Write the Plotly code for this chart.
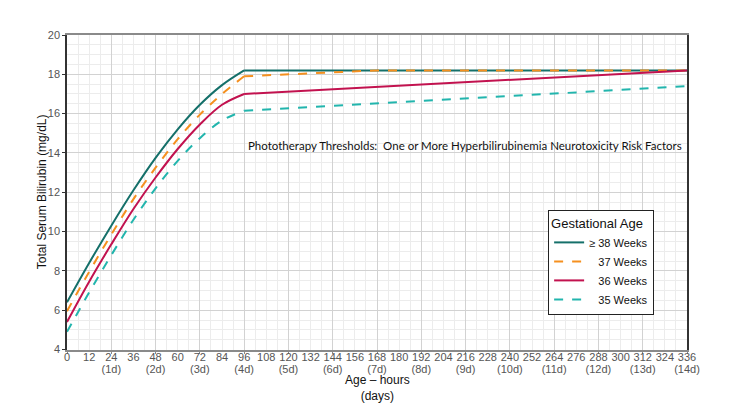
import plotly.graph_objects as go

# ---- data ----
hours = [0, 12, 24, 36, 48, 60, 72, 84, 96, 120, 144, 168, 216, 276, 336]

ga38 = [6.4, 8.4, 10.3, 12.1, 13.75, 15.2, 16.45, 17.45, 18.2, 18.2, 18.2, 18.2, 18.2, 18.2, 18.2]
ga37 = [5.95, 7.95, 9.85, 11.65, 13.25, 14.7, 15.95, 17.0, 17.9, 18.0, 18.12, 18.2, 18.2, 18.2, 18.2]
ga36 = [5.4, 7.45, 9.35, 11.15, 12.75, 14.2, 15.45, 16.45, 17.0, 17.12, 17.24, 17.36, 17.6, 17.9, 18.2]
ga35 = [4.9, 6.9, 8.8, 10.6, 12.2, 13.6, 14.75, 15.65, 16.15, 16.27, 16.4, 16.52, 16.77, 17.08, 17.4]

series_names = ["\u2265 38 Weeks", "\u00a0\u00a0\u00a037 Weeks", "\u00a0\u00a0\u00a036 Weeks", "\u00a0\u00a0\u00a035 Weeks"]
series_vals = [ga38, ga37, ga36, ga35]
series_colors = ["#15706a", "#f5901f", "#c2124f", "#22b5ad"]
series_dash = ["solid", "dash", "solid", "dash"]
rise_end = 96  # hour at which the rising phase ends

day_ticks = list(range(0, 337, 24))
day_labels = [""] + [f"({h // 24}d)" for h in day_ticks[1:]]
hour_ticks = list(range(0, 337, 12))
hour_labels = [str(h) for h in hour_ticks]
y_ticks = list(range(4, 21, 2))

title_text = "Phototherapy Thresholds:  One or More Hyperbilirubinemia Neurotoxicity Risk Factors"
x_title = "Age \u2013 hours<br>(days)"
y_title = "Total Serum Bilirubin (mg/dL)"

fig = go.Figure()
split = hours.index(rise_end)
for name, vals, col, dash in zip(series_names, series_vals, series_colors, series_dash):
    line = dict(color=col, width=2, dash=dash)
    fig.add_trace(go.Scatter(x=hours[:split + 1], y=vals[:split + 1], mode="lines",
                             name=name, legendgroup=name,
                             line=dict(line, shape="spline", smoothing=1.0)))
    fig.add_trace(go.Scatter(x=hours[split:], y=vals[split:], mode="lines",
                             name=name, legendgroup=name, showlegend=False,
                             line=line))

# invisible traces to anchor the label-only axes
for ax in ["x2", "x3"]:
    fig.add_trace(go.Scatter(x=[0, 336], y=[4, 4], xaxis=ax, mode="lines",
                             line=dict(width=0), showlegend=False, hoverinfo="skip"))

tickfont = dict(family="Liberation Sans, Arial, sans-serif", size=11, color="#555555")

# layout geometry (pixels -> paper fractions)
fig_h, m_top, m_bot = 403, 35, 20
plot_bottom_px = 349.5
paper_h = fig_h - m_top - m_bot
dom0 = (fig_h - m_bot - plot_bottom_px) / paper_h
pos_hours = (fig_h - m_bot - 349) / paper_h
pos_days = (fig_h - m_bot - 360.5) / paper_h

fig.update_layout(
    width=730, height=fig_h,
    margin=dict(l=67, r=43, t=m_top, b=m_bot),
    paper_bgcolor="white", plot_bgcolor="white",
    font=dict(family="Liberation Sans, Arial, sans-serif", size=11, color="#222"),
    xaxis=dict(
        range=[0, 336], tickmode="array", tickvals=day_ticks, showticklabels=False,
        showgrid=True, gridcolor="#d2d2d2", gridwidth=1,
        minor=dict(dtick=6, showgrid=True, gridcolor="#ececec", gridwidth=1, ticks=""),
        ticks="outside", ticklen=3, tickcolor="#888",
        showline=True, linecolor="#8a8a8a", linewidth=1.5, mirror=True,
        zeroline=False, automargin=False,
    ),
    xaxis2=dict(
        range=[0, 336], overlaying="x", anchor="free", position=pos_hours,
        tickmode="array", tickvals=hour_ticks, ticktext=hour_labels,
        showgrid=False, ticks="", tickfont=tickfont,
        showline=False, zeroline=False, automargin=False,
    ),
    xaxis3=dict(
        range=[0, 336], overlaying="x", anchor="free", position=pos_days,
        tickmode="array", tickvals=day_ticks, ticktext=day_labels,
        showgrid=False, ticks="", tickfont=tickfont,
        showline=False, zeroline=False, automargin=False,
    ),
    yaxis=dict(
        domain=[dom0, 1],
        range=[4, 20], tickmode="array", tickvals=y_ticks,
        showgrid=True, gridcolor="#d2d2d2", gridwidth=1,
        minor=dict(dtick=0.5, showgrid=True, gridcolor="#ececec", gridwidth=1, ticks=""),
        ticks="outside", ticklen=3, tickcolor="#333", tickfont=tickfont,
        showline=True, linecolor="#333", linewidth=1.5, mirror=True,
        zeroline=False, automargin=False,
    ),
    legend=dict(
        x=0.776, y=(fig_h - m_bot - 210) / paper_h, xanchor="left", yanchor="top",
        bgcolor="white", bordercolor="#222", borderwidth=1,
        title=dict(text="Gestational Age", font=dict(size=13, color="#111")),
        font=dict(size=11, color="#111"), itemwidth=30, tracegroupgap=0,
    ),
    annotations=[
        dict(x=97, y=14.4, xref="x", yref="y", xanchor="left", yanchor="middle",
             text=title_text, showarrow=False,
             font=dict(family="Lato, sans-serif", size=11.5, color="#111")),
        dict(x=0.5, y=(fig_h - m_bot - 388) / paper_h, xref="paper", yref="paper",
             xanchor="center", yanchor="middle", text=x_title, showarrow=False,
             font=dict(size=12, color="#111")),
        dict(x=(42 - 67) / 620, y=dom0 + (1 - dom0) / 2, xref="paper", yref="paper",
             xanchor="center", yanchor="middle", text=y_title, showarrow=False,
             textangle=-90, font=dict(size=12, color="#111")),
    ],
    showlegend=True,
)

fig.write_html("out.html", config={"displayModeBar": False},
               post_script="document.body.style.margin='0';")
